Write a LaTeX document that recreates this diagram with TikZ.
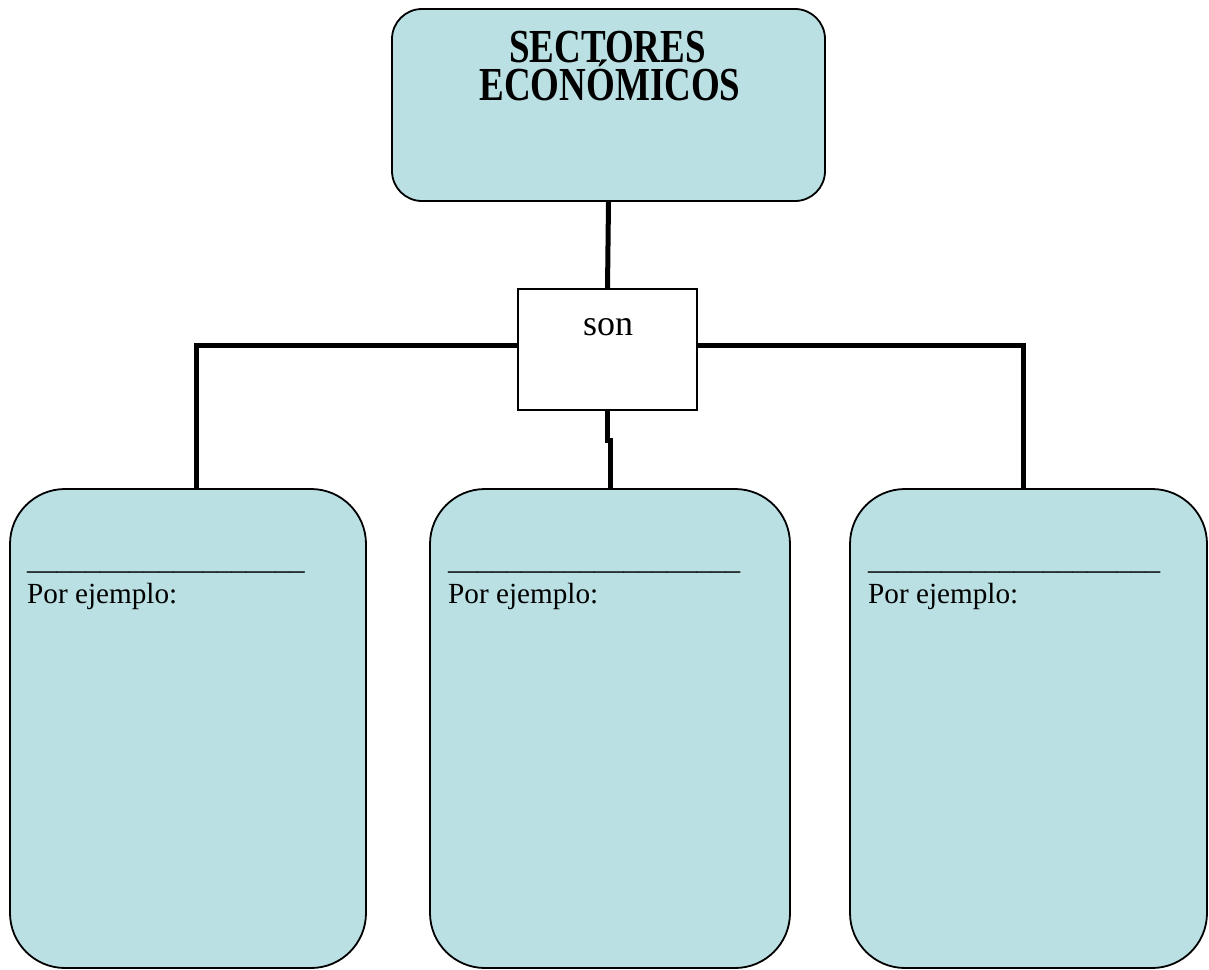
\documentclass[tikz,border=0pt]{standalone}
\usepackage{fontspec}
\setmainfont{Liberation Serif}
\usepackage{graphicx}
\definecolor{boxblue}{HTML}{BAE0E3}
\begin{document}
\begin{tikzpicture}[x=1pt,y=-1pt,
  bluebox/.style={draw=black,line width=1.8pt,fill=boxblue,rounded corners=#1,inner sep=0pt},
  sonbox/.style={draw=black,line width=1.3pt,fill=white,inner sep=0pt,minimum width=179pt,minimum height=121pt},
  link/.style={line width=5pt,line join=miter},
  titletxt/.style={anchor=base,inner sep=0pt,font=\fontsize{37}{40}\selectfont\bfseries},
  bodytxt/.style={anchor=base west,inner sep=0pt,font=\fontsize{29.2}{34}\selectfont}
]
\useasboundingbox (0,0) rectangle (1209,969);
% boxes
\node[bluebox=30pt,minimum width=433pt,minimum height=192pt] (top) at (608.5,105) {};
\node[sonbox] (son) at (607.5,349.5) {};
\node[bluebox=55pt,minimum width=356pt,minimum height=479pt] (b1) at (188,728.5) {};
\node[bluebox=55pt,minimum width=360pt,minimum height=479pt] (b2) at (610,728.5) {};
\node[bluebox=55pt,minimum width=357pt,minimum height=479pt] (b3) at (1028.5,728.5) {};
% connectors
\draw[link] (top.south) -- (son.north);
\draw[link] (son.west |- {(0,345)}) -| ([xshift=8.5pt]b1.north);
\draw[link] (son.east |- {(0,345)}) -| ([xshift=-5.5pt]b3.north);
\draw[link] (son.south) -- ++(0,30) -| (b2.north);
% texts
\node[titletxt] (t1) at (607.5,62) {\scalebox{1}[1.28]{SECTORES}};
\node[titletxt] (t2) at (610,100) {\scalebox{1}[1.28]{ECONÓMICOS}};
\node[anchor=base,inner sep=0pt,font=\fontsize{36}{40}\selectfont] (sontxt) at (608,335) {son};
\node[bodytxt] (u1) at (27,569) {\_\_\_\_\_\_\_\_\_\_\_\_\_\_\_\_\_\_\_};
\node[bodytxt] (p1) at (27,603) {Por ejemplo:};
\node[bodytxt] (u2) at (448,569) {\_\_\_\_\_\_\_\_\_\_\_\_\_\_\_\_\_\_\_\_};
\node[bodytxt] (p2) at (448,603) {Por ejemplo:};
\node[bodytxt] (u3) at (868,569) {\_\_\_\_\_\_\_\_\_\_\_\_\_\_\_\_\_\_\_\_};
\node[bodytxt] (p3) at (868,603) {Por ejemplo:};
\end{tikzpicture}
\end{document}
